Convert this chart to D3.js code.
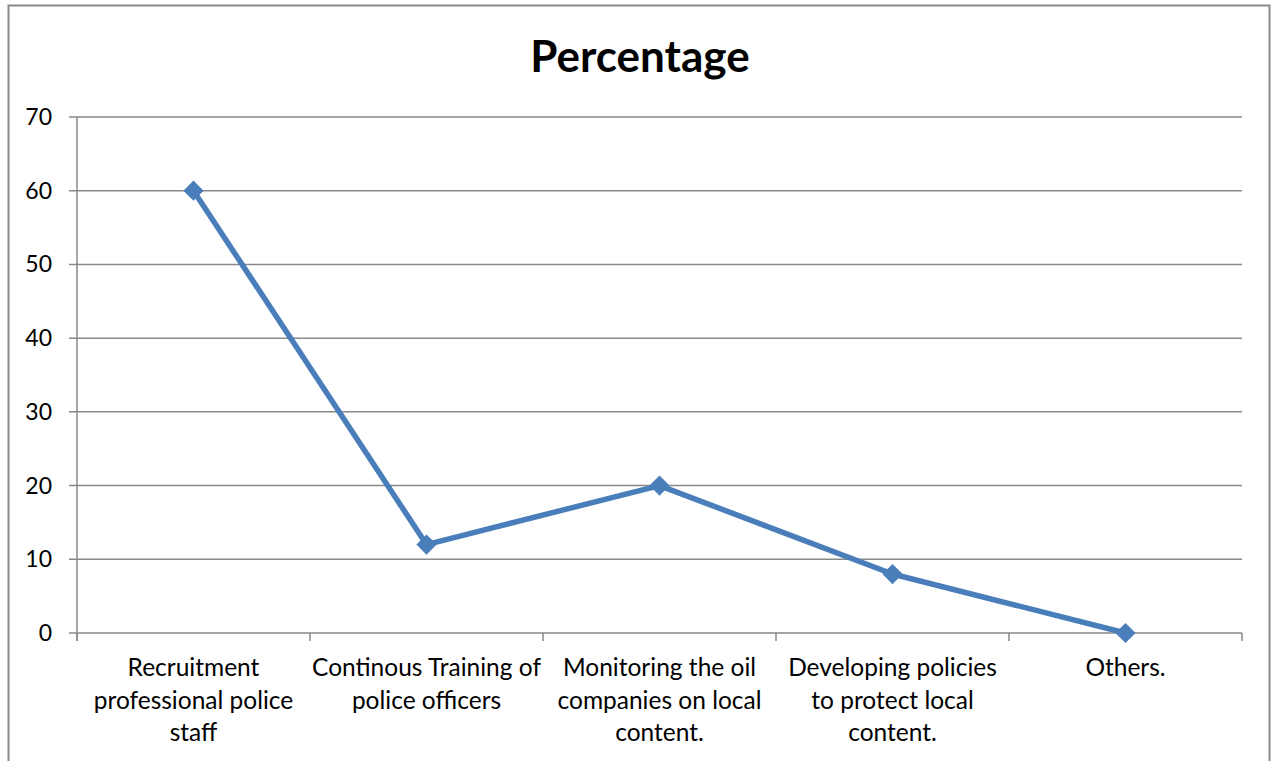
<!DOCTYPE html>
<html>
<head>
<meta charset="utf-8">
<script src="https://d3js.org/d3.v7.min.js"></script>
<style>
  body { margin: 0; background: #fff; }
  svg { display: block; }
</style>
</head>
<body>
<svg class="chart"></svg>
<script>
var width = 1273;
var height = 761;

// data
var categories = [
  ["Recruitment", "professional police", "staff"],
  ["Continous Training of", "police officers"],
  ["Monitoring the oil", "companies on local", "content."],
  ["Developing policies", "to protect local", "content."],
  ["Others."]
];
var values = [60, 12, 20, 8, 0];
var yTicks = [0, 10, 20, 30, 40, 50, 60, 70];
var title = "Percentage";

var margin = { left: 77, right: 31, top: 117, bottom: 128 };
var font = "Lato, 'Open Sans', sans-serif";
var grey = "#898989";
var blue = "#4a7ebb";

var chart = d3.select(".chart").attr("width", width).attr("height", height);

// outer frame
chart.append("rect")
    .attr("x", 8.5).attr("y", 5.5)
    .attr("width", 1261).attr("height", 770)
    .attr("fill", "none").attr("stroke", grey).attr("stroke-width", 2);

chart.append("text")
    .attr("x", 640).attr("y", 72)
    .attr("text-anchor", "middle")
    .attr("font-family", font).attr("font-weight", "bold")
    .attr("font-size", 44).attr("fill", "#000")
    .text(title);

var x = d3.scaleBand()
    .domain(d3.range(categories.length))
    .range([margin.left, width - margin.right]);

var y = d3.scaleLinear()
    .domain([0, 70])
    .range([height - margin.bottom, margin.top]);

// horizontal gridlines
chart.append("g").selectAll("line")
    .data(yTicks)
  .enter().append("line")
    .attr("x1", margin.left - 8).attr("x2", width - margin.right)
    .attr("y1", function(d) { return y(d); })
    .attr("y2", function(d) { return y(d); })
    .attr("stroke", grey).attr("stroke-width", 1.5);

// y tick labels
chart.append("g").selectAll("text")
    .data(yTicks)
  .enter().append("text")
    .attr("x", 52)
    .attr("y", function(d) { return y(d); })
    .attr("dy", "0.35em")
    .attr("text-anchor", "end")
    .attr("font-family", font).attr("font-size", 23).attr("fill", "#000")
    .text(function(d) { return d; });

// y axis line
chart.append("line")
    .attr("x1", margin.left).attr("x2", margin.left)
    .attr("y1", y(70)).attr("y2", y(0) + 8)
    .attr("stroke", grey).attr("stroke-width", 1.5);

// x tick marks at category edges
var edges = d3.range(categories.length + 1).map(function(i) {
  return i < categories.length ? x(i) : x(i - 1) + x.bandwidth();
});
chart.append("g").selectAll("line")
    .data(edges)
  .enter().append("line")
    .attr("x1", function(d) { return d; })
    .attr("x2", function(d) { return d; })
    .attr("y1", y(0)).attr("y2", y(0) + 8)
    .attr("stroke", grey).attr("stroke-width", 1.5);

// category labels
var labels = chart.append("g").selectAll("text")
    .data(categories)
  .enter().append("text")
    .attr("text-anchor", "middle")
    .attr("font-family", font).attr("font-size", 24.5).attr("fill", "#000")
    .attr("transform", function(d, i) {
      return "translate(" + (x(i) + x.bandwidth() / 2) + ",676)";
    });
labels.selectAll("tspan")
    .data(function(d) { return d; })
  .enter().append("tspan")
    .attr("x", 0)
    .attr("y", function(d, i) { return i * 32.5; })
    .text(function(d) { return d; });

var cx = function(d, i) { return x(i) + x.bandwidth() / 2; };

var line = d3.line()
    .x(function(d, i) { return cx(d, i); })
    .y(function(d) { return y(d); });

chart.append("path")
    .datum(values)
    .attr("d", line)
    .attr("fill", "none")
    .attr("stroke", blue)
    .attr("stroke-width", 5.5)
    .attr("stroke-linejoin", "round");

chart.append("g").selectAll("path")
    .data(values)
  .enter().append("path")
    .attr("d", d3.symbol().type(d3.symbolDiamond2).size(260))
    .attr("transform", function(d, i) { return "translate(" + cx(d, i) + "," + y(d) + ")"; })
    .attr("fill", blue);
</script>
</body>
</html>
